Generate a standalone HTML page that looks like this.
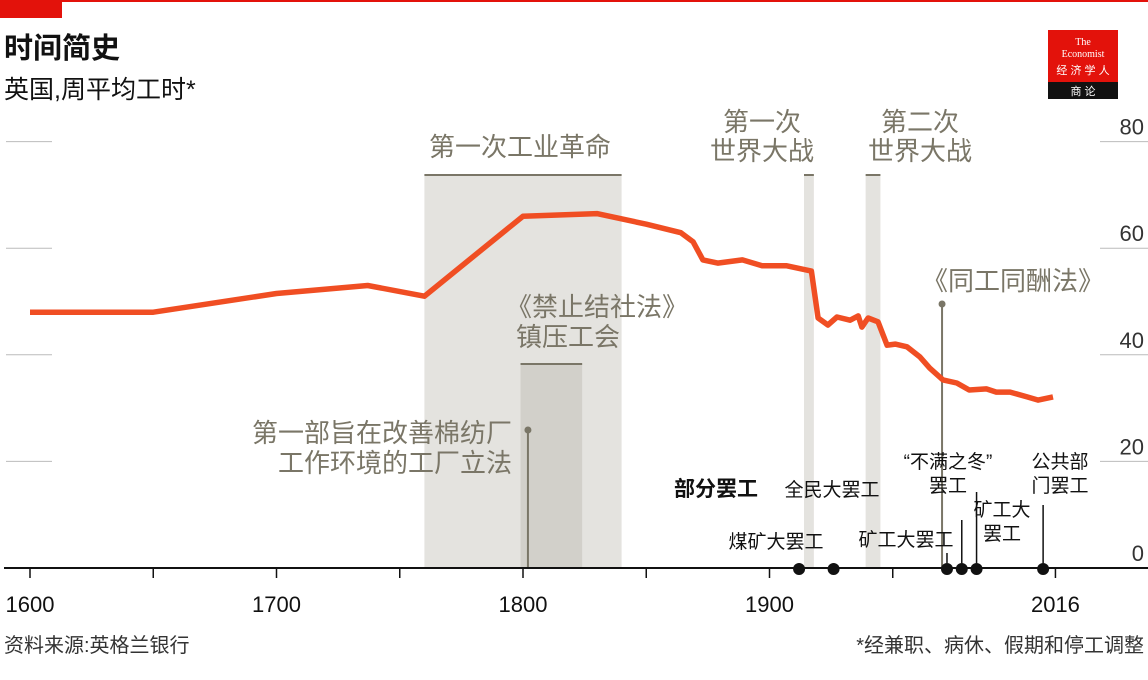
<!DOCTYPE html>
<html><head><meta charset="utf-8"><style>
body{margin:0;background:#fff;}
svg{display:block;font-family:"Liberation Sans","Noto Sans CJK SC",sans-serif;}
</style></head><body>
<svg width="1148" height="680" viewBox="0 0 1148 680">
<rect x="0" y="0" width="1148" height="2" fill="#e3120b"/>
<rect x="0" y="0" width="62" height="18" fill="#e3120b"/>
<text x="4" y="58" font-size="29" font-weight="bold" fill="#111">时间简史</text>
<text x="4" y="98" font-size="25" fill="#111">英国,周平均工时*</text>
<g>
<rect x="1048" y="30" width="70" height="52" fill="#e3120b"/>
<rect x="1048" y="82" width="70" height="17" fill="#111"/>
<text x="1083" y="45" font-size="10" fill="#fff" text-anchor="middle" font-family="Liberation Serif,serif">The</text>
<text x="1083" y="57" font-size="10" fill="#fff" text-anchor="middle" font-family="Liberation Serif,serif">Economist</text>
<text x="1083" y="74" font-size="11" fill="#fff" text-anchor="middle">经 济 学 人</text>
<text x="1083" y="95" font-size="11" fill="#fff" text-anchor="middle">商 论</text>
</g>
<g id="bands"></g>
<g id="grid"></g>
<g id="ann" fill="#7a7667" font-size="26">
<text x="520" y="156" text-anchor="middle">第一次工业革命</text>
<text x="762" y="131" text-anchor="middle">第一次</text>
<text x="762" y="160" text-anchor="middle">世界大战</text>
<text x="920" y="131" text-anchor="middle">第二次</text>
<text x="920" y="160" text-anchor="middle">世界大战</text>
<text x="1104" y="290" text-anchor="end">《同工同酬法》</text>
<text x="506" y="316">《禁止结社法》</text>
<text x="516" y="346">镇压工会</text>
<text x="512" y="442" text-anchor="end">第一部旨在改善棉纺厂</text>
<text x="512" y="472" text-anchor="end">工作环境的工厂立法</text>
</g>
<g id="strikes" font-size="19" fill="#111"></g>
<g id="axes"></g>
<path id="line" fill="none" stroke="#f04e23" stroke-width="5.5" stroke-linejoin="round"/>
<text x="4" y="652" font-size="20" fill="#333">资料来源:英格兰银行</text>
<text x="1144" y="652" font-size="20" fill="#333" text-anchor="end">*经兼职、病休、假期和停工调整</text>
</svg>
<script>
const years=[1600,1650,1700,1737,1760,1800,1830,1850,1864,1869,1873,1879,1889,1897,1907,1917,1919.7,1923.7,1927.4,1932.7,1936,1937.5,1940,1944,1947.7,1951,1955.8,1961,1965,1970.4,1976,1981,1988,1992,1997.6,2004.5,2009,2015];
const hours=[48,48,51.5,53,51,66,66.5,64.5,62.9,61.2,57.8,57.2,57.8,56.7,56.7,55.7,46.9,45.6,47.1,46.5,47.3,45.2,46.9,46.2,41.8,42,41.5,39.6,37.5,35.3,34.7,33.4,33.6,33,33,32.1,31.5,32.1];
const yTicks=[0,20,40,60,80];
const xTicks=[1600,1700,1800,1900,2016];
const xMinor=[1650,1750,1850,1950];
const bandStart=[1760,1914,1939];
const bandEnd=[1840,1918,1945];
const strikeYears=[1912,1926,1972,1978,1984,2011];
const X=y=>30+(y-1600)*2.465;
const Y=v=>568-v*5.33;
const NS="http://www.w3.org/2000/svg";
function mk(p,t,a){const e=document.createElementNS(NS,t);for(const k in a)e.setAttribute(k,a[k]);p.appendChild(e);return e;}
const bands=document.getElementById('bands');
bandStart.forEach((s,i)=>{
 const r=mk(bands,'rect',{x:X(s),y:175,width:X(bandEnd[i])-X(s),height:393,fill:'#e4e3df'});
 
 
 const l=mk(bands,'line',{x1:X(s),x2:X(bandEnd[i]),y1:175,y2:175,stroke:'#7a7667','stroke-width':2});
 
 
});
const cb=mk(bands,'rect',{x:X(1799),y:364,width:X(1824)-X(1799),height:204,fill:'#d2d0ca'});


mk(bands,'line',{x1:X(1799),x2:X(1824),y1:364,y2:364,stroke:'#7a7667','stroke-width':2});
const fl=mk(bands,'line',{x1:X(1802),x2:X(1802),y1:430,y2:568,stroke:'#7a7667','stroke-width':2});


mk(bands,'circle',{cx:X(1802),cy:430,r:3.5,fill:'#7a7667'});
const el=mk(bands,'line',{x1:X(1970),x2:X(1970),y1:304,y2:568,stroke:'#7a7667','stroke-width':2});


mk(bands,'circle',{cx:X(1970),cy:304,r:3.5,fill:'#7a7667'});
const grid=document.getElementById('grid');
yTicks.forEach(v=>{
 if(v>0){
 const a=mk(grid,'line',{x1:6,x2:52,y1:Y(v),y2:Y(v),stroke:'#bbb','stroke-width':1});
 
 
 mk(grid,'line',{x1:1100,x2:1148,y1:Y(v),y2:Y(v),stroke:'#bbb','stroke-width':1});}
 const t=mk(grid,'text',{x:1144,y:Y(v)-7,'text-anchor':'end','font-size':22,fill:'#333'});
 t.textContent=v;
 
 
});
const axes=document.getElementById('axes');
const ax=mk(axes,'line',{x1:4,x2:1148,y1:568,y2:568,stroke:'#111','stroke-width':2});


xTicks.concat(xMinor).forEach(y=>{mk(axes,'line',{x1:X(y),x2:X(y),y1:568,y2:578,stroke:'#111','stroke-width':1.5});});
xTicks.forEach(y=>{
 const t=mk(axes,'text',{x:X(y),y:612,'text-anchor':'middle','font-size':22,fill:'#111'});
 t.textContent=y;
 
 
});
const st=document.getElementById('strikes');
const pl=mk(st,'text',{x:674,y:496,'font-size':21,'font-weight':'bold'});
pl.textContent='部分罢工';


const lab=[{x:776,y:548,l:['煤矿大罢工']},{x:832,y:496,l:['全民大罢工']},{x:906,y:546,l:['矿工大罢工']},{x:948,y:468,l:['“不满之冬”','罢工']},{x:1002,y:516,l:['矿工大','罢工']},{x:1060,y:468,l:['公共部','门罢工']}];
const lineTop=[555,503,553,520,492,505];
strikeYears.forEach((y,i)=>{
 const c=mk(st,'circle',{cx:X(y),cy:569,r:6,fill:'#111'});
 
 
 if(i>=2){mk(st,'line',{x1:X(y),x2:X(y),y1:lineTop[i],y2:563,stroke:'#111','stroke-width':1.5});}
 const L=lab[i];
 L.l.forEach((s,j)=>{const t=mk(st,'text',{x:L.x,y:L.y+j*24,'text-anchor':'middle'});t.textContent=s;
 
 });
});
document.getElementById('line').setAttribute('d',years.map((y,i)=>(i?'L':'M')+X(y).toFixed(1)+','+Y(hours[i]).toFixed(1)).join(''));
</script>
</body></html>
